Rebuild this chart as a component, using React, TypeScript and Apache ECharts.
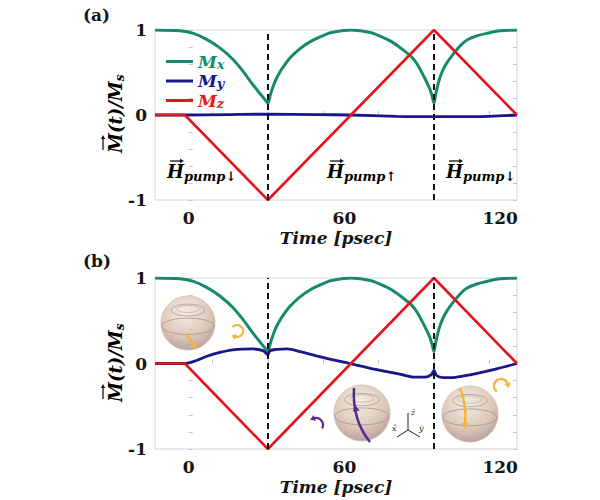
import React, { useEffect, useRef } from "react";
import * as echarts from "echarts";

// ---------- data ----------
const xMin = -13;
const xMax = 126.5;
const xLabelValues = [0, 60, 120];
const xTickValues = [9.2, 30.5, 51.8, 73.2, 94.5, 115.8];
const pumpSwitchTimes = [30.5, 94.5];

const mxTime = [-13, -3.4, 1.8, 6.9, 12, 17.2, 21, 24.9, 27.5, 29.4, 30.5, 31.3, 32, 33.5, 35.2, 37, 39, 42.9, 46.7, 50, 55, 62.5, 70, 75, 78.3, 82, 86, 88, 90, 91.5, 93, 93.8, 94.5, 95.2, 96.5, 97.8, 99.4, 102, 104.5, 107.1, 111, 114.8, 120, 126.5];
const mxValue = [1, 0.99, 0.96, 0.89, 0.79, 0.65, 0.51, 0.35, 0.25, 0.18, 0.14, 0.22, 0.29, 0.41, 0.51, 0.59, 0.67, 0.78, 0.86, 0.91, 0.97, 1.0, 0.97, 0.91, 0.86, 0.78, 0.68, 0.6, 0.49, 0.4, 0.3, 0.22, 0.14, 0.25, 0.41, 0.52, 0.61, 0.72, 0.81, 0.88, 0.93, 0.96, 0.99, 1.0];

const myTimeA = [-13, -1.5, 15, 30.5, 50, 62, 80, 94.5, 110, 126.5];
const myValueA = [0, 0, 0.005, 0.01, 0.005, 0, -0.015, -0.02, -0.02, 0];

const myTimeB = [-13, -1.5, 3, 7, 12, 17, 24.8, 28.6, 30.5, 31.3, 34, 37.9, 42.9, 52, 62, 72, 81.4, 87, 91, 93.5, 94.5, 95.5, 98, 101, 106, 112, 119, 126.5];
const myValueB = [0, 0, 0.035, 0.085, 0.13, 0.16, 0.17, 0.15, 0.105, 0.15, 0.165, 0.17, 0.14, 0.07, 0, -0.07, -0.125, -0.16, -0.16, -0.13, -0.08, -0.14, -0.165, -0.165, -0.145, -0.11, -0.06, 0];

const mzTime = [-13, -1.5, 30.5, 94.5, 126.5];
const mzValue = [0, 0, -1, 1, 0];

const seriesNames = ["Mx", "My", "Mz"];
const subscripts = ["x", "y", "z"];
const pumpLabels = ["pump↓", "pump↑", "pump↓"];

// ---------- styles ----------
const FONT = '"DejaVu Serif", serif';
const C_X = "#178a6c";
const C_Y = "#17178a";
const C_Z = "#e3161e";
const colors = [C_X, C_Y, C_Z];
const INK = "#151515";

const pair = (t: number[], v: number[]) => t.map((x, i) => [x, v[i]]);

function xAxisCfg(gridIndex: number) {
  return {
    type: "value",
    gridIndex,
    min: xMin,
    max: xMax,
    splitLine: { show: false },
    axisLine: { show: false },
    axisTick: { show: true, inside: true, length: 4, customValues: xTickValues, lineStyle: { color: "#c4c4c4" } },
    axisLabel: {
      customValues: xLabelValues,
      formatter: (v: number) => (xLabelValues.includes(Math.round(v * 1000) / 1000) ? String(v) : ""),
      fontFamily: FONT,
      fontWeight: "bold",
      fontSize: 17,
      color: INK,
      margin: 9,
    },
    name: "{t|Time [psec]}",
    nameLocation: "middle",
    nameGap: 29,
    nameTextStyle: {
      rich: { t: { fontFamily: FONT, fontWeight: "bold", fontStyle: "italic", fontSize: 17, color: INK } },
    },
  };
}

function yAxisCfg(gridIndex: number, side: "left" | "right") {
  const left = side === "left";
  return {
    type: "value",
    gridIndex,
    position: side,
    min: -1,
    max: 1,
    interval: 0.2,
    splitLine: { show: false },
    axisLine: { show: false },
    axisTick: { show: true, inside: true, length: 4, lineStyle: { color: "#c4c4c4" } },
    axisLabel: {
      show: left,
      formatter: (v: number) => {
        const r = Math.round(v);
        return Math.abs(v - r) < 1e-6 ? String(r) : "";
      },
      fontFamily: FONT,
      fontWeight: "bold",
      fontSize: 17,
      color: INK,
      margin: 8,
    },
  };
}

function seriesFor(gridIndex: number, myData: number[][]) {
  const xa = gridIndex;
  const ya = gridIndex * 2;
  const base = { type: "line", xAxisIndex: xa, yAxisIndex: ya, showSymbol: false, symbol: "none", silent: true };
  return [
    { ...base, name: seriesNames[0], data: pair(mxTime, mxValue), smooth: 0.3, lineStyle: { color: C_X, width: 3 }, itemStyle: { color: C_X }, z: 2 },
    { ...base, name: seriesNames[1], data: myData, smooth: 0.3, lineStyle: { color: C_Y, width: 2.8 }, itemStyle: { color: C_Y }, z: 3 },
    {
      ...base,
      name: seriesNames[2],
      data: pair(mzTime, mzValue),
      lineStyle: { color: C_Z, width: 2.6 },
      itemStyle: { color: C_Z },
      z: 4,
      markLine: {
        silent: true,
        symbol: ["none", "none"],
        label: { show: false },
        lineStyle: { color: "#111", type: [6, 4], width: 2 },
        data: pumpSwitchTimes.map((t) => ({ xAxis: t })),
        z: 10,
      },
    },
  ];
}

function sphere(cx: number, cy: number, r: number) {
  return [
    {
      type: "circle",
      shape: { cx, cy, r },
      style: {
        fill: new echarts.graphic.RadialGradient(0.45, 0.3, 0.85, [
          { offset: 0, color: "#f5ede4" },
          { offset: 0.55, color: "#dcc8b9" },
          { offset: 1, color: "#a7898a" },
        ]),
        stroke: "#cdbcae",
        lineWidth: 0.8,
      },
    },
    { type: "ellipse", shape: { cx, cy: cy - r * 0.48, rx: r * 0.62, ry: r * 0.22 }, style: { fill: "none", stroke: "#a8998f", lineWidth: 0.8 } },
    { type: "ellipse", shape: { cx, cy: cy - r * 0.52, rx: r * 0.42, ry: r * 0.13 }, style: { fill: "none", stroke: "#b9ada5", lineWidth: 0.7 } },
    { type: "ellipse", shape: { cx, cy: cy + r * 0.12, rx: r * 0.97, ry: r * 0.3 }, style: { fill: "none", stroke: "#a5918c", lineWidth: 0.8 } },
  ];
}

function curl(cx: number, cy: number, r: number, color: string, start: number, end: number, cw: boolean) {
  const a = end;
  const ex = cx + r * Math.cos(a);
  const ey = cy + r * Math.sin(a);
  const dir = cw ? 1 : -1;
  const tx = -Math.sin(a) * dir;
  const ty = Math.cos(a) * dir;
  const nx = -ty;
  const ny = tx;
  const h = 4;
  return [
    { type: "arc", shape: { cx, cy, r, startAngle: start, endAngle: end, clockwise: cw }, style: { fill: "none", stroke: color, lineWidth: 2.2 } },
    {
      type: "polygon",
      shape: { points: [[ex + tx * h, ey + ty * h], [ex + nx * h * 0.8 - tx, ey + ny * h * 0.8 - ty], [ex - nx * h * 0.8 - tx, ey - ny * h * 0.8 - ty]] },
      style: { fill: color },
    },
  ];
}

function head(x: number, y: number, dx: number, dy: number, color: string, h = 5) {
  const len = Math.hypot(dx, dy);
  const ux = dx / len;
  const uy = dy / len;
  const nx = -uy;
  const ny = ux;
  return {
    type: "polygon",
    shape: { points: [[x + ux * h, y + uy * h], [x - ux + nx * h * 0.7, y - uy + ny * h * 0.7], [x - ux - nx * h * 0.7, y - uy - ny * h * 0.7]] },
    style: { fill: color },
  };
}

// little vector arrow (line + head) pointing in +x of its local frame
function vecArrow(x1: number, x2: number, y: number, color = INK) {
  return [
    { type: "line", shape: { x1, y1: y, x2: x2 - 1, y2: y }, style: { stroke: color, lineWidth: 1.3 } },
    { type: "polygon", shape: { points: [[x2 + 1, y], [x2 - 3, y - 2.2], [x2 - 3, y + 2.2]] }, style: { fill: color } },
  ];
}

const pumpRich = {
  h: { fontFamily: FONT, fontWeight: "bold", fontStyle: "italic", fontSize: 18, color: INK, lineHeight: 24 },
  p: { fontFamily: FONT, fontWeight: "bold", fontStyle: "italic", fontSize: 13, color: INK, lineHeight: 14, verticalAlign: "bottom" },
};

const yNameRich = {
  n: { fontFamily: FONT, fontWeight: "bold", fontStyle: "italic", fontSize: 18, color: INK, lineHeight: 22 },
  s: { fontFamily: FONT, fontWeight: "bold", fontStyle: "italic", fontSize: 12, color: INK, lineHeight: 12, verticalAlign: "bottom" },
};

function yName(cx: number, cy: number) {
  return {
    type: "group",
    x: cx,
    y: cy,
    rotation: Math.PI / 2,
    children: [
      { type: "text", x: -38, y: 0, style: { text: "{n|M(t)/M}{s|s}", rich: yNameRich, verticalAlign: "middle", align: "left" } },
      ...vecArrow(-35, -21, -12),
    ],
  };
}

export default function App() {
  const ref = useRef<HTMLDivElement>(null);
  useEffect(() => {
    if (!ref.current) return;
    const chart = echarts.init(ref.current, undefined, { renderer: "svg" });
    const ORANGE = "#f2b53a";
    const PURPLE = "#5a2a8e";
    const pumpX = [167, 327, 446];
    const graphic: any[] = [
      { type: "text", x: 83, y: 6, style: { text: "(a)", fontFamily: FONT, fontWeight: "bold", fontSize: 17, fill: INK } },
      { type: "text", x: 83, y: 252, style: { text: "(b)", fontFamily: FONT, fontWeight: "bold", fontSize: 17, fill: INK } },
      yName(115, 115),
      yName(115, 364),
      ...pumpX.flatMap((x, i) => [
        {
          type: "text",
          x,
          y: 159,
          style: { text: `{h|H}{p|${pumpLabels[i]}}`, rich: pumpRich },
        },
        ...vecArrow(x + 3, x + 16, 161),
      ]),
      ...sphere(188, 323, 27),
      { type: "line", shape: { x1: 186, y1: 334, x2: 194, y2: 345 }, style: { stroke: ORANGE, lineWidth: 2.5 } },
      head(194, 345, 8, 11, ORANGE),
      ...curl(237, 331, 6, ORANGE, -2.4, 1.9, true),
      ...sphere(362, 413, 28),
      { type: "bezierCurve", shape: { x1: 370, y1: 442, cpx1: 352, cpy1: 420, x2: 354, y2: 388 }, style: { stroke: PURPLE, lineWidth: 2.5, fill: "none" } },
      head(356, 410, -1, -6, PURPLE),
      ...curl(316, 425, 7, PURPLE, 0.5, 4.4, false),
      { type: "line", shape: { x1: 408, y1: 430, x2: 408, y2: 413 }, style: { stroke: "#222", lineWidth: 1 } },
      { type: "line", shape: { x1: 408, y1: 430, x2: 397, y2: 437 }, style: { stroke: "#222", lineWidth: 1 } },
      { type: "line", shape: { x1: 408, y1: 430, x2: 420, y2: 437 }, style: { stroke: "#222", lineWidth: 1 } },
      { type: "text", x: 411, y: 408, style: { text: "ẑ", fontFamily: FONT, fontStyle: "italic", fontSize: 8, fill: "#222" } },
      { type: "text", x: 392, y: 424, style: { text: "x̂", fontFamily: FONT, fontStyle: "italic", fontSize: 8, fill: "#222" } },
      { type: "text", x: 419, y: 424, style: { text: "ŷ", fontFamily: FONT, fontStyle: "italic", fontSize: 8, fill: "#222" } },
      ...sphere(470, 414, 28),
      { type: "bezierCurve", shape: { x1: 460, y1: 388, cpx1: 467, cpy1: 405, x2: 465, y2: 424 }, style: { stroke: ORANGE, lineWidth: 2.5, fill: "none" } },
      head(465, 424, 0, 6, ORANGE),
      ...curl(501, 386, 7, ORANGE, 2.2, 6.0, true),
    ];

    chart.setOption({
      animation: false,
      backgroundColor: "#ffffff",
      grid: [
        { left: 155, top: 30, width: 362, height: 170, show: true, borderColor: "#d6d6d6", borderWidth: 1 },
        { left: 155, top: 278, width: 362, height: 171, show: true, borderColor: "#d6d6d6", borderWidth: 1 },
      ],
      xAxis: [xAxisCfg(0), xAxisCfg(1)],
      yAxis: [yAxisCfg(0, "left"), yAxisCfg(0, "right"), yAxisCfg(1, "left"), yAxisCfg(1, "right")],
      legend: {
        left: 161,
        top: 48,
        orient: "vertical",
        icon: "rect",
        itemWidth: 27,
        itemHeight: 3,
        itemGap: 2,
        selectedMode: false,
        data: seriesNames,
        formatter: (name: string) => {
          const i = seriesNames.indexOf(name);
          return `{m${i}|M}{s${i}|${subscripts[i]}}`;
        },
        textStyle: {
          rich: Object.fromEntries(
            colors.flatMap((c, i) => [
              [`m${i}`, { fontFamily: FONT, fontWeight: "bold", fontStyle: "italic", fontSize: 17, color: c, lineHeight: 18 }],
              [`s${i}`, { fontFamily: FONT, fontWeight: "bold", fontStyle: "italic", fontSize: 13, color: c, lineHeight: 10, verticalAlign: "bottom" }],
            ])
          ),
        },
      },
      series: [...seriesFor(0, pair(myTimeA, myValueA)), ...seriesFor(1, pair(myTimeB, myValueB))],
      graphic,
    });
    return () => chart.dispose();
  }, []);
  return <div ref={ref} style={{ position: "fixed", left: 0, top: 0, width: 600, height: 500, background: "#fff" }} />;
}
